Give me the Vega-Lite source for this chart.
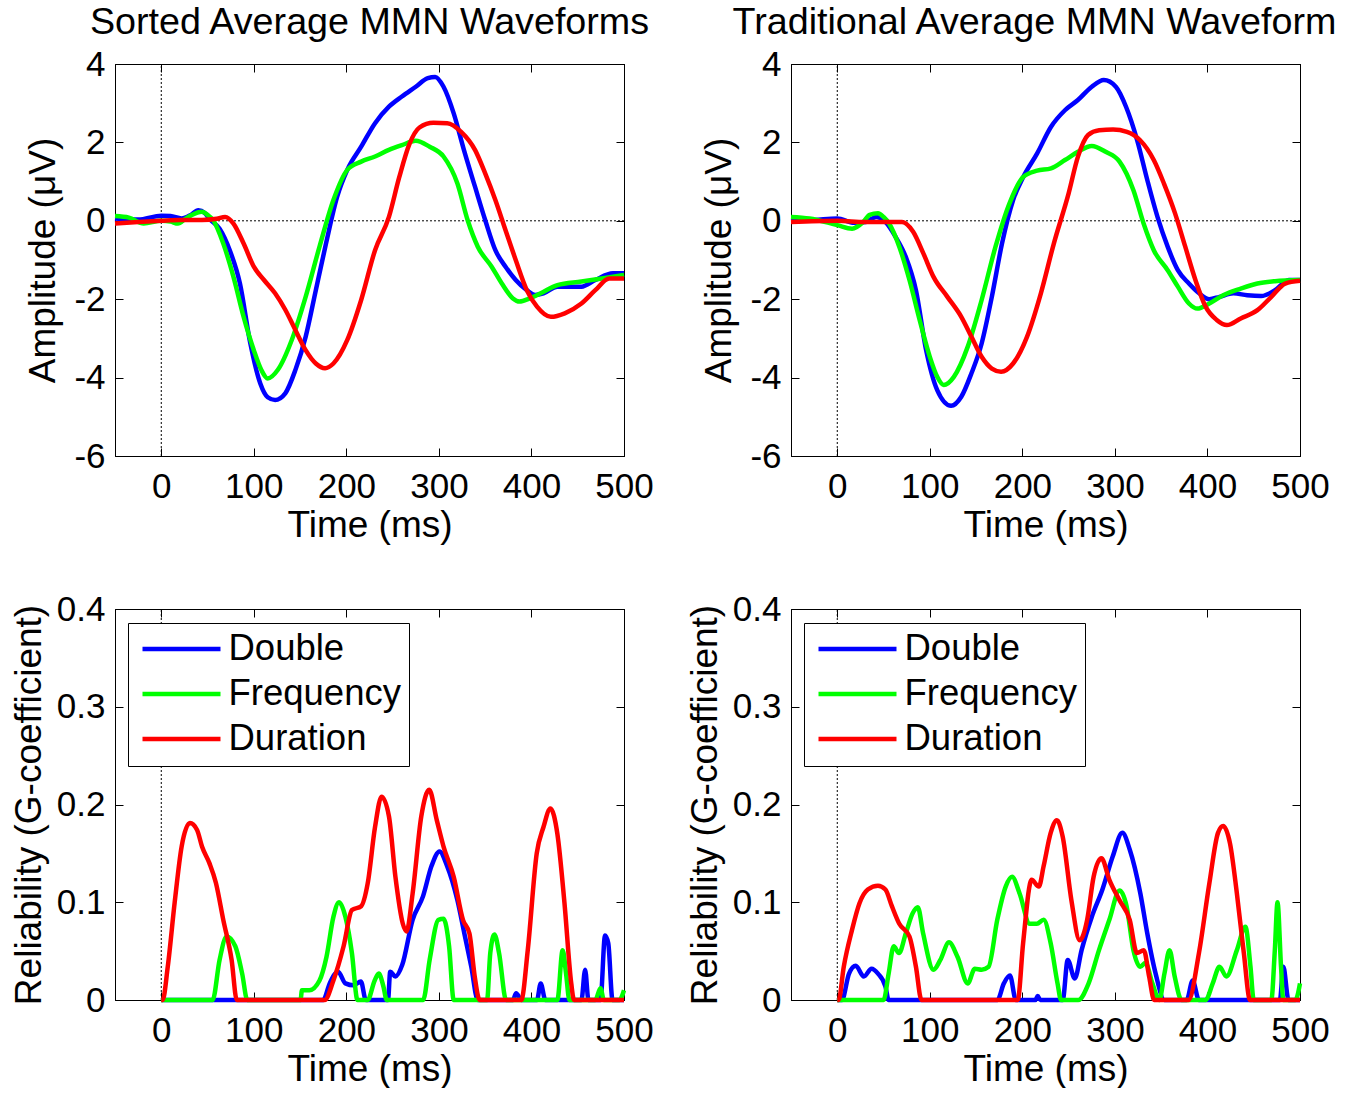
{
  "$schema": "https://vega.github.io/schema/vega-lite/v6.json",
  "background": "white",
  "padding": {"left": 9, "top": 3, "right": 0, "bottom": 0},
  "datasets": {
    "sortedWave": [
      {"time":-50,"value":0.06,"condition":"Double"},{"time":-25,"value":0.03,"condition":"Double"},{"time":0,"value":0.13,"condition":"Double"},{"time":10,"value":0.12,"condition":"Double"},{"time":22,"value":0.06,"condition":"Double"},{"time":32,"value":0.15,"condition":"Double"},{"time":40,"value":0.27,"condition":"Double"},{"time":47,"value":0.2,"condition":"Double"},{"time":52,"value":0.05,"condition":"Double"},{"time":63,"value":-0.2,"condition":"Double"},{"time":74,"value":-0.75,"condition":"Double"},{"time":85,"value":-1.6,"condition":"Double"},{"time":96,"value":-3.1,"condition":"Double"},{"time":107,"value":-4.15,"condition":"Double"},{"time":115,"value":-4.5,"condition":"Double"},{"time":123,"value":-4.57,"condition":"Double"},{"time":134,"value":-4.4,"condition":"Double"},{"time":145,"value":-3.8,"condition":"Double"},{"time":156,"value":-2.96,"condition":"Double"},{"time":167,"value":-1.77,"condition":"Double"},{"time":178,"value":-0.58,"condition":"Double"},{"time":190,"value":0.61,"condition":"Double"},{"time":201,"value":1.3,"condition":"Double"},{"time":216,"value":1.89,"condition":"Double"},{"time":231,"value":2.49,"condition":"Double"},{"time":246,"value":2.91,"condition":"Double"},{"time":260,"value":3.17,"condition":"Double"},{"time":275,"value":3.42,"condition":"Double"},{"time":288,"value":3.64,"condition":"Double"},{"time":296,"value":3.67,"condition":"Double"},{"time":305,"value":3.42,"condition":"Double"},{"time":316,"value":2.74,"condition":"Double"},{"time":327,"value":1.81,"condition":"Double"},{"time":339,"value":0.87,"condition":"Double"},{"time":350,"value":0.02,"condition":"Double"},{"time":361,"value":-0.75,"condition":"Double"},{"time":372,"value":-1.17,"condition":"Double"},{"time":383,"value":-1.51,"condition":"Double"},{"time":395,"value":-1.77,"condition":"Double"},{"time":404,"value":-1.89,"condition":"Double"},{"time":413,"value":-1.85,"condition":"Double"},{"time":428,"value":-1.68,"condition":"Double"},{"time":443,"value":-1.68,"condition":"Double"},{"time":454,"value":-1.68,"condition":"Double"},{"time":469,"value":-1.51,"condition":"Double"},{"time":488,"value":-1.34,"condition":"Double"},{"time":500,"value":-1.34,"condition":"Double"},
      {"time":-50,"value":0.12,"condition":"Frequency"},{"time":-35,"value":0.08,"condition":"Frequency"},{"time":-19,"value":-0.07,"condition":"Frequency"},{"time":0,"value":0.0,"condition":"Frequency"},{"time":10,"value":-0.02,"condition":"Frequency"},{"time":18,"value":-0.07,"condition":"Frequency"},{"time":26,"value":0.05,"condition":"Frequency"},{"time":33,"value":0.15,"condition":"Frequency"},{"time":44,"value":0.23,"condition":"Frequency"},{"time":50,"value":0.15,"condition":"Frequency"},{"time":56,"value":0.02,"condition":"Frequency"},{"time":67,"value":-0.58,"condition":"Frequency"},{"time":78,"value":-1.43,"condition":"Frequency"},{"time":89,"value":-2.45,"condition":"Frequency"},{"time":100,"value":-3.3,"condition":"Frequency"},{"time":108,"value":-3.8,"condition":"Frequency"},{"time":115,"value":-4.02,"condition":"Frequency"},{"time":126,"value":-3.8,"condition":"Frequency"},{"time":141,"value":-3.04,"condition":"Frequency"},{"time":156,"value":-1.94,"condition":"Frequency"},{"time":171,"value":-0.66,"condition":"Frequency"},{"time":186,"value":0.53,"condition":"Frequency"},{"time":201,"value":1.3,"condition":"Frequency"},{"time":216,"value":1.51,"condition":"Frequency"},{"time":231,"value":1.64,"condition":"Frequency"},{"time":246,"value":1.81,"condition":"Frequency"},{"time":260,"value":1.93,"condition":"Frequency"},{"time":275,"value":2.04,"condition":"Frequency"},{"time":290,"value":1.89,"condition":"Frequency"},{"time":305,"value":1.64,"condition":"Frequency"},{"time":320,"value":0.95,"condition":"Frequency"},{"time":331,"value":0.02,"condition":"Frequency"},{"time":342,"value":-0.66,"condition":"Frequency"},{"time":357,"value":-1.17,"condition":"Frequency"},{"time":368,"value":-1.6,"condition":"Frequency"},{"time":380,"value":-1.98,"condition":"Frequency"},{"time":387,"value":-2.06,"condition":"Frequency"},{"time":398,"value":-1.98,"condition":"Frequency"},{"time":410,"value":-1.85,"condition":"Frequency"},{"time":428,"value":-1.64,"condition":"Frequency"},{"time":454,"value":-1.55,"condition":"Frequency"},{"time":476,"value":-1.47,"condition":"Frequency"},{"time":500,"value":-1.38,"condition":"Frequency"},
      {"time":-50,"value":-0.07,"condition":"Duration"},{"time":-25,"value":-0.03,"condition":"Duration"},{"time":0,"value":0.0,"condition":"Duration"},{"time":20,"value":0.02,"condition":"Duration"},{"time":44,"value":0.02,"condition":"Duration"},{"time":60,"value":0.05,"condition":"Duration"},{"time":69,"value":0.1,"condition":"Duration"},{"time":78,"value":-0.07,"condition":"Duration"},{"time":89,"value":-0.58,"condition":"Duration"},{"time":100,"value":-1.17,"condition":"Duration"},{"time":111,"value":-1.51,"condition":"Duration"},{"time":123,"value":-1.85,"condition":"Duration"},{"time":134,"value":-2.27,"condition":"Duration"},{"time":145,"value":-2.79,"condition":"Duration"},{"time":156,"value":-3.3,"condition":"Duration"},{"time":167,"value":-3.64,"condition":"Duration"},{"time":177,"value":-3.76,"condition":"Duration"},{"time":186,"value":-3.64,"condition":"Duration"},{"time":201,"value":-3.04,"condition":"Duration"},{"time":216,"value":-2.02,"condition":"Duration"},{"time":231,"value":-0.75,"condition":"Duration"},{"time":246,"value":0.1,"condition":"Duration"},{"time":257,"value":1.1,"condition":"Duration"},{"time":268,"value":1.95,"condition":"Duration"},{"time":279,"value":2.38,"condition":"Duration"},{"time":294,"value":2.5,"condition":"Duration"},{"time":309,"value":2.49,"condition":"Duration"},{"time":324,"value":2.27,"condition":"Duration"},{"time":339,"value":1.81,"condition":"Duration"},{"time":350,"value":1.21,"condition":"Duration"},{"time":361,"value":0.53,"condition":"Duration"},{"time":372,"value":-0.24,"condition":"Duration"},{"time":383,"value":-1.0,"condition":"Duration"},{"time":395,"value":-1.77,"condition":"Duration"},{"time":406,"value":-2.19,"condition":"Duration"},{"time":421,"value":-2.45,"condition":"Duration"},{"time":436,"value":-2.36,"condition":"Duration"},{"time":454,"value":-2.11,"condition":"Duration"},{"time":469,"value":-1.77,"condition":"Duration"},{"time":484,"value":-1.47,"condition":"Duration"},{"time":500,"value":-1.47,"condition":"Duration"}
    ],
    "tradWave": [
      {"time":-50,"value":0.0,"condition":"Double"},{"time":-25,"value":0.02,"condition":"Double"},{"time":0,"value":0.06,"condition":"Double"},{"time":18,"value":-0.05,"condition":"Double"},{"time":31,"value":-0.03,"condition":"Double"},{"time":42,"value":0.1,"condition":"Double"},{"time":52,"value":-0.03,"condition":"Double"},{"time":63,"value":-0.41,"condition":"Double"},{"time":74,"value":-0.92,"condition":"Double"},{"time":85,"value":-1.77,"condition":"Double"},{"time":96,"value":-3.3,"condition":"Double"},{"time":108,"value":-4.32,"condition":"Double"},{"time":123,"value":-4.72,"condition":"Double"},{"time":134,"value":-4.49,"condition":"Double"},{"time":145,"value":-3.89,"condition":"Double"},{"time":156,"value":-3.13,"condition":"Double"},{"time":167,"value":-1.94,"condition":"Double"},{"time":178,"value":-0.58,"condition":"Double"},{"time":190,"value":0.53,"condition":"Double"},{"time":201,"value":1.12,"condition":"Double"},{"time":216,"value":1.72,"condition":"Double"},{"time":231,"value":2.4,"condition":"Double"},{"time":246,"value":2.82,"condition":"Double"},{"time":260,"value":3.08,"condition":"Double"},{"time":275,"value":3.42,"condition":"Double"},{"time":288,"value":3.59,"condition":"Double"},{"time":301,"value":3.42,"condition":"Double"},{"time":312,"value":2.91,"condition":"Double"},{"time":324,"value":2.06,"condition":"Double"},{"time":335,"value":1.04,"condition":"Double"},{"time":346,"value":0.1,"condition":"Double"},{"time":357,"value":-0.66,"condition":"Double"},{"time":368,"value":-1.26,"condition":"Double"},{"time":380,"value":-1.6,"condition":"Double"},{"time":391,"value":-1.85,"condition":"Double"},{"time":402,"value":-2.0,"condition":"Double"},{"time":413,"value":-1.94,"condition":"Double"},{"time":428,"value":-1.85,"condition":"Double"},{"time":443,"value":-1.9,"condition":"Double"},{"time":458,"value":-1.92,"condition":"Double"},{"time":473,"value":-1.77,"condition":"Double"},{"time":488,"value":-1.51,"condition":"Double"},{"time":500,"value":-1.51,"condition":"Double"},
      {"time":-50,"value":0.1,"condition":"Frequency"},{"time":-30,"value":0.06,"condition":"Frequency"},{"time":0,"value":-0.11,"condition":"Frequency"},{"time":16,"value":-0.2,"condition":"Frequency"},{"time":28,"value":-0.03,"condition":"Frequency"},{"time":35,"value":0.15,"condition":"Frequency"},{"time":44,"value":0.19,"condition":"Frequency"},{"time":50,"value":0.1,"condition":"Frequency"},{"time":56,"value":-0.07,"condition":"Frequency"},{"time":67,"value":-0.66,"condition":"Frequency"},{"time":78,"value":-1.51,"condition":"Frequency"},{"time":89,"value":-2.53,"condition":"Frequency"},{"time":100,"value":-3.47,"condition":"Frequency"},{"time":108,"value":-3.98,"condition":"Frequency"},{"time":115,"value":-4.19,"condition":"Frequency"},{"time":126,"value":-3.98,"condition":"Frequency"},{"time":141,"value":-3.21,"condition":"Frequency"},{"time":156,"value":-2.02,"condition":"Frequency"},{"time":171,"value":-0.66,"condition":"Frequency"},{"time":186,"value":0.44,"condition":"Frequency"},{"time":201,"value":1.12,"condition":"Frequency"},{"time":216,"value":1.28,"condition":"Frequency"},{"time":231,"value":1.34,"condition":"Frequency"},{"time":246,"value":1.55,"condition":"Frequency"},{"time":260,"value":1.76,"condition":"Frequency"},{"time":275,"value":1.91,"condition":"Frequency"},{"time":290,"value":1.76,"condition":"Frequency"},{"time":305,"value":1.51,"condition":"Frequency"},{"time":320,"value":0.78,"condition":"Frequency"},{"time":331,"value":-0.07,"condition":"Frequency"},{"time":342,"value":-0.75,"condition":"Frequency"},{"time":357,"value":-1.26,"condition":"Frequency"},{"time":368,"value":-1.68,"condition":"Frequency"},{"time":380,"value":-2.11,"condition":"Frequency"},{"time":389,"value":-2.24,"condition":"Frequency"},{"time":402,"value":-2.11,"condition":"Frequency"},{"time":417,"value":-1.9,"condition":"Frequency"},{"time":436,"value":-1.73,"condition":"Frequency"},{"time":454,"value":-1.6,"condition":"Frequency"},{"time":473,"value":-1.54,"condition":"Frequency"},{"time":500,"value":-1.51,"condition":"Frequency"},
      {"time":-50,"value":-0.03,"condition":"Duration"},{"time":0,"value":0.0,"condition":"Duration"},{"time":30,"value":-0.03,"condition":"Duration"},{"time":70,"value":-0.03,"condition":"Duration"},{"time":82,"value":-0.28,"condition":"Duration"},{"time":93,"value":-0.83,"condition":"Duration"},{"time":104,"value":-1.43,"condition":"Duration"},{"time":119,"value":-1.94,"condition":"Duration"},{"time":134,"value":-2.45,"condition":"Duration"},{"time":145,"value":-2.96,"condition":"Duration"},{"time":156,"value":-3.47,"condition":"Duration"},{"time":167,"value":-3.77,"condition":"Duration"},{"time":177,"value":-3.85,"condition":"Duration"},{"time":190,"value":-3.64,"condition":"Duration"},{"time":205,"value":-2.96,"condition":"Duration"},{"time":220,"value":-1.85,"condition":"Duration"},{"time":234,"value":-0.58,"condition":"Duration"},{"time":250,"value":0.7,"condition":"Duration"},{"time":260,"value":1.63,"condition":"Duration"},{"time":271,"value":2.19,"condition":"Duration"},{"time":283,"value":2.31,"condition":"Duration"},{"time":298,"value":2.33,"condition":"Duration"},{"time":313,"value":2.27,"condition":"Duration"},{"time":327,"value":2.06,"condition":"Duration"},{"time":342,"value":1.55,"condition":"Duration"},{"time":353,"value":0.95,"condition":"Duration"},{"time":365,"value":0.19,"condition":"Duration"},{"time":376,"value":-0.66,"condition":"Duration"},{"time":387,"value":-1.51,"condition":"Duration"},{"time":398,"value":-2.19,"condition":"Duration"},{"time":410,"value":-2.53,"condition":"Duration"},{"time":421,"value":-2.66,"condition":"Duration"},{"time":436,"value":-2.49,"condition":"Duration"},{"time":454,"value":-2.28,"condition":"Duration"},{"time":469,"value":-1.94,"condition":"Duration"},{"time":484,"value":-1.6,"condition":"Duration"},{"time":500,"value":-1.53,"condition":"Duration"}
    ],
    "sortedRel": [
      {"time":0,"value":0,"condition":"Double"},{"time":175,"value":0,"condition":"Double"},{"time":182,"value":0.017,"condition":"Double"},{"time":191,"value":0.029,"condition":"Double"},{"time":199,"value":0.017,"condition":"Double"},{"time":208,"value":0.015,"condition":"Double"},{"time":215.7,"value":0.019,"condition":"Double"},{"time":221,"value":0,"condition":"Double"},{"time":245,"value":0,"condition":"Double"},{"time":247.4,"value":0.029,"condition":"Double"},{"time":253,"value":0.024,"condition":"Double"},{"time":260.4,"value":0.036,"condition":"Double"},{"time":271.6,"value":0.082,"condition":"Double"},{"time":282.8,"value":0.106,"condition":"Double"},{"time":292,"value":0.137,"condition":"Double"},{"time":300.7,"value":0.152,"condition":"Double"},{"time":308.9,"value":0.137,"condition":"Double"},{"time":320,"value":0.102,"condition":"Double"},{"time":327.5,"value":0.068,"condition":"Double"},{"time":335,"value":0.034,"condition":"Double"},{"time":342,"value":0,"condition":"Double"},{"time":380,"value":0,"condition":"Double"},{"time":383.4,"value":0.007,"condition":"Double"},{"time":389,"value":0,"condition":"Double"},{"time":406,"value":0,"condition":"Double"},{"time":410,"value":0.017,"condition":"Double"},{"time":415,"value":0,"condition":"Double"},{"time":454,"value":0,"condition":"Double"},{"time":458,"value":0.031,"condition":"Double"},{"time":461.6,"value":0,"condition":"Double"},{"time":474.6,"value":0,"condition":"Double"},{"time":479.5,"value":0.066,"condition":"Double"},{"time":483,"value":0.058,"condition":"Double"},{"time":487.6,"value":0,"condition":"Double"},{"time":500,"value":0,"condition":"Double"},
      {"time":0,"value":0,"condition":"Frequency"},{"time":55.5,"value":0,"condition":"Frequency"},{"time":63,"value":0.041,"condition":"Frequency"},{"time":70.6,"value":0.065,"condition":"Frequency"},{"time":80,"value":0.055,"condition":"Frequency"},{"time":87.4,"value":0.027,"condition":"Frequency"},{"time":93,"value":0,"condition":"Frequency"},{"time":150.5,"value":0,"condition":"Frequency"},{"time":152,"value":0.01,"condition":"Frequency"},{"time":160,"value":0.01,"condition":"Frequency"},{"time":171,"value":0.02,"condition":"Frequency"},{"time":178.5,"value":0.044,"condition":"Frequency"},{"time":186,"value":0.085,"condition":"Frequency"},{"time":192,"value":0.1,"condition":"Frequency"},{"time":199,"value":0.085,"condition":"Frequency"},{"time":206,"value":0.048,"condition":"Frequency"},{"time":212,"value":0,"condition":"Frequency"},{"time":223,"value":0,"condition":"Frequency"},{"time":230.6,"value":0.02,"condition":"Frequency"},{"time":235,"value":0.027,"condition":"Frequency"},{"time":240,"value":0.014,"condition":"Frequency"},{"time":243.6,"value":0,"condition":"Frequency"},{"time":283,"value":0,"condition":"Frequency"},{"time":290,"value":0.041,"condition":"Frequency"},{"time":299.5,"value":0.082,"condition":"Frequency"},{"time":305,"value":0.083,"condition":"Frequency"},{"time":311,"value":0.055,"condition":"Frequency"},{"time":316,"value":0,"condition":"Frequency"},{"time":352,"value":0,"condition":"Frequency"},{"time":355.5,"value":0.048,"condition":"Frequency"},{"time":360,"value":0.067,"condition":"Frequency"},{"time":365,"value":0.048,"condition":"Frequency"},{"time":372.6,"value":0,"condition":"Frequency"},{"time":428,"value":0,"condition":"Frequency"},{"time":433.7,"value":0.051,"condition":"Frequency"},{"time":437.4,"value":0.027,"condition":"Frequency"},{"time":441,"value":0,"condition":"Frequency"},{"time":469,"value":0,"condition":"Frequency"},{"time":474.6,"value":0.012,"condition":"Frequency"},{"time":478.3,"value":0,"condition":"Frequency"},{"time":495,"value":0,"condition":"Frequency"},{"time":500,"value":0.01,"condition":"Frequency"},
      {"time":0,"value":0,"condition":"Duration"},{"time":1.5,"value":0,"condition":"Duration"},{"time":7,"value":0.034,"condition":"Duration"},{"time":14.5,"value":0.1,"condition":"Duration"},{"time":22,"value":0.157,"condition":"Duration"},{"time":31,"value":0.181,"condition":"Duration"},{"time":38.7,"value":0.174,"condition":"Duration"},{"time":44,"value":0.157,"condition":"Duration"},{"time":52,"value":0.14,"condition":"Duration"},{"time":59,"value":0.12,"condition":"Duration"},{"time":67,"value":0.082,"condition":"Duration"},{"time":76,"value":0.041,"condition":"Duration"},{"time":81.6,"value":0,"condition":"Duration"},{"time":176.6,"value":0,"condition":"Duration"},{"time":186,"value":0.02,"condition":"Duration"},{"time":197,"value":0.055,"condition":"Duration"},{"time":206,"value":0.092,"condition":"Duration"},{"time":216,"value":0.096,"condition":"Duration"},{"time":223,"value":0.119,"condition":"Duration"},{"time":231,"value":0.177,"condition":"Duration"},{"time":238,"value":0.208,"condition":"Duration"},{"time":246,"value":0.188,"condition":"Duration"},{"time":253,"value":0.126,"condition":"Duration"},{"time":261,"value":0.078,"condition":"Duration"},{"time":265,"value":0.07,"condition":"Duration"},{"time":271.6,"value":0.109,"condition":"Duration"},{"time":281,"value":0.188,"condition":"Duration"},{"time":289.5,"value":0.215,"condition":"Duration"},{"time":297.7,"value":0.184,"condition":"Duration"},{"time":305,"value":0.157,"condition":"Duration"},{"time":316,"value":0.126,"condition":"Duration"},{"time":326,"value":0.082,"condition":"Duration"},{"time":333,"value":0.068,"condition":"Duration"},{"time":338.7,"value":0.024,"condition":"Duration"},{"time":344,"value":0,"condition":"Duration"},{"time":389,"value":0,"condition":"Duration"},{"time":396,"value":0.051,"condition":"Duration"},{"time":405.7,"value":0.15,"condition":"Duration"},{"time":413,"value":0.177,"condition":"Duration"},{"time":420.5,"value":0.196,"condition":"Duration"},{"time":428,"value":0.17,"condition":"Duration"},{"time":435.6,"value":0.1,"condition":"Duration"},{"time":443,"value":0.017,"condition":"Duration"},{"time":446,"value":0,"condition":"Duration"},{"time":500,"value":0,"condition":"Duration"}
    ],
    "tradRel": [
      {"time":0,"value":0,"condition":"Double"},{"time":5,"value":0,"condition":"Double"},{"time":12.7,"value":0.027,"condition":"Double"},{"time":20,"value":0.035,"condition":"Double"},{"time":28.7,"value":0.024,"condition":"Double"},{"time":37,"value":0.032,"condition":"Double"},{"time":44,"value":0.027,"condition":"Double"},{"time":52,"value":0.014,"condition":"Double"},{"time":55.5,"value":0,"condition":"Double"},{"time":173,"value":0,"condition":"Double"},{"time":180,"value":0.017,"condition":"Double"},{"time":186.6,"value":0.025,"condition":"Double"},{"time":193,"value":0,"condition":"Double"},{"time":214,"value":0,"condition":"Double"},{"time":216.6,"value":0.004,"condition":"Double"},{"time":219.4,"value":0,"condition":"Double"},{"time":243.6,"value":0,"condition":"Double"},{"time":249,"value":0.041,"condition":"Double"},{"time":256.6,"value":0.022,"condition":"Double"},{"time":264,"value":0.051,"condition":"Double"},{"time":275,"value":0.085,"condition":"Double"},{"time":286.5,"value":0.113,"condition":"Double"},{"time":297.7,"value":0.147,"condition":"Double"},{"time":308,"value":0.171,"condition":"Double"},{"time":316,"value":0.154,"condition":"Double"},{"time":327.5,"value":0.109,"condition":"Double"},{"time":335,"value":0.068,"condition":"Double"},{"time":344,"value":0.027,"condition":"Double"},{"time":353.5,"value":0,"condition":"Double"},{"time":377.6,"value":0,"condition":"Double"},{"time":384,"value":0.02,"condition":"Double"},{"time":390.8,"value":0,"condition":"Double"},{"time":478.3,"value":0,"condition":"Double"},{"time":482,"value":0.034,"condition":"Double"},{"time":487.6,"value":0,"condition":"Double"},{"time":500,"value":0,"condition":"Double"},
      {"time":0,"value":0,"condition":"Frequency"},{"time":50,"value":0,"condition":"Frequency"},{"time":55.5,"value":0.027,"condition":"Frequency"},{"time":61,"value":0.055,"condition":"Frequency"},{"time":66.7,"value":0.048,"condition":"Frequency"},{"time":74,"value":0.068,"condition":"Frequency"},{"time":81.6,"value":0.089,"condition":"Frequency"},{"time":87,"value":0.095,"condition":"Frequency"},{"time":92.8,"value":0.068,"condition":"Frequency"},{"time":104,"value":0.031,"condition":"Frequency"},{"time":111.4,"value":0.041,"condition":"Frequency"},{"time":120.7,"value":0.059,"condition":"Frequency"},{"time":130,"value":0.044,"condition":"Frequency"},{"time":141,"value":0.017,"condition":"Frequency"},{"time":148.6,"value":0.032,"condition":"Frequency"},{"time":156,"value":0.031,"condition":"Frequency"},{"time":163.5,"value":0.034,"condition":"Frequency"},{"time":172.9,"value":0.082,"condition":"Frequency"},{"time":182,"value":0.116,"condition":"Frequency"},{"time":188.9,"value":0.126,"condition":"Frequency"},{"time":197,"value":0.109,"condition":"Frequency"},{"time":208,"value":0.078,"condition":"Frequency"},{"time":215.7,"value":0.078,"condition":"Frequency"},{"time":223,"value":0.082,"condition":"Frequency"},{"time":230.6,"value":0.058,"condition":"Frequency"},{"time":238,"value":0.017,"condition":"Frequency"},{"time":241.8,"value":0,"condition":"Frequency"},{"time":260.4,"value":0,"condition":"Frequency"},{"time":271.6,"value":0.017,"condition":"Frequency"},{"time":282.8,"value":0.051,"condition":"Frequency"},{"time":294,"value":0.082,"condition":"Frequency"},{"time":305,"value":0.112,"condition":"Frequency"},{"time":312.6,"value":0.096,"condition":"Frequency"},{"time":320,"value":0.051,"condition":"Frequency"},{"time":327.5,"value":0.034,"condition":"Frequency"},{"time":333,"value":0.038,"condition":"Frequency"},{"time":340.5,"value":0.017,"condition":"Frequency"},{"time":348,"value":0,"condition":"Frequency"},{"time":353.5,"value":0.027,"condition":"Frequency"},{"time":359,"value":0.051,"condition":"Frequency"},{"time":364.6,"value":0.024,"condition":"Frequency"},{"time":372,"value":0,"condition":"Frequency"},{"time":398,"value":0,"condition":"Frequency"},{"time":405.7,"value":0.017,"condition":"Frequency"},{"time":413,"value":0.034,"condition":"Frequency"},{"time":420.5,"value":0.024,"condition":"Frequency"},{"time":431.8,"value":0.051,"condition":"Frequency"},{"time":441,"value":0.075,"condition":"Frequency"},{"time":446.5,"value":0.034,"condition":"Frequency"},{"time":450,"value":0,"condition":"Frequency"},{"time":469,"value":0,"condition":"Frequency"},{"time":472.8,"value":0.051,"condition":"Frequency"},{"time":475.7,"value":0.1,"condition":"Frequency"},{"time":479.5,"value":0.034,"condition":"Frequency"},{"time":482,"value":0,"condition":"Frequency"},{"time":495,"value":0,"condition":"Frequency"},{"time":500,"value":0.017,"condition":"Frequency"},
      {"time":0,"value":0,"condition":"Duration"},{"time":1.5,"value":0,"condition":"Duration"},{"time":7,"value":0.034,"condition":"Duration"},{"time":16,"value":0.072,"condition":"Duration"},{"time":24,"value":0.099,"condition":"Duration"},{"time":33,"value":0.113,"condition":"Duration"},{"time":44,"value":0.117,"condition":"Duration"},{"time":52,"value":0.113,"condition":"Duration"},{"time":59,"value":0.096,"condition":"Duration"},{"time":67,"value":0.078,"condition":"Duration"},{"time":78,"value":0.065,"condition":"Duration"},{"time":85,"value":0.034,"condition":"Duration"},{"time":91,"value":0,"condition":"Duration"},{"time":195,"value":0,"condition":"Duration"},{"time":200.8,"value":0.058,"condition":"Duration"},{"time":210,"value":0.123,"condition":"Duration"},{"time":217.8,"value":0.116,"condition":"Duration"},{"time":223,"value":0.137,"condition":"Duration"},{"time":230.6,"value":0.171,"condition":"Duration"},{"time":237.3,"value":0.184,"condition":"Duration"},{"time":243.6,"value":0.167,"condition":"Duration"},{"time":253,"value":0.102,"condition":"Duration"},{"time":262,"value":0.061,"condition":"Duration"},{"time":270,"value":0.082,"condition":"Duration"},{"time":277,"value":0.126,"condition":"Duration"},{"time":285.4,"value":0.145,"condition":"Duration"},{"time":294,"value":0.123,"condition":"Duration"},{"time":305,"value":0.102,"condition":"Duration"},{"time":316,"value":0.082,"condition":"Duration"},{"time":323.8,"value":0.048,"condition":"Duration"},{"time":331.2,"value":0.051,"condition":"Duration"},{"time":337,"value":0.024,"condition":"Duration"},{"time":342.4,"value":0,"condition":"Duration"},{"time":379.6,"value":0,"condition":"Duration"},{"time":390.8,"value":0.048,"condition":"Duration"},{"time":402,"value":0.119,"condition":"Duration"},{"time":411.4,"value":0.171,"condition":"Duration"},{"time":417,"value":0.178,"condition":"Duration"},{"time":424.4,"value":0.16,"condition":"Duration"},{"time":431.8,"value":0.109,"condition":"Duration"},{"time":439.3,"value":0.048,"condition":"Duration"},{"time":446,"value":0,"condition":"Duration"},{"time":500,"value":0,"condition":"Duration"}
    ]
  },
  "columns": 2,
  "spacing": {"row": 47, "column": 31},
  "resolve": {"scale": {"color": "independent", "x": "independent", "y": "independent"}, "legend": {"color": "independent"}},
  "concat": [
    {
      "width": 509, "height": 392,
      "title": {"text": "Sorted Average MMN Waveforms"},
      "layer": [
        {"data": {"values": [{}]}, "mark": {"type": "rule", "color": "black", "strokeWidth": 1, "strokeDash": [2, 2]},
         "encoding": {"y": {"datum": 0, "type": "quantitative", "scale": {"domain": [-6, 4], "nice": false, "zero": false}, "axis": null}}},
        {"data": {"values": [{}]}, "mark": {"type": "rule", "color": "black", "strokeWidth": 1, "strokeDash": [2, 2]},
         "encoding": {
           "x": {"datum": 0, "type": "quantitative", "scale": {"domain": [-50, 500], "nice": false, "zero": false}, "axis": {"orient": "top", "values": [0, 100, 200, 300, 400, 500], "labels": false, "title": null}},
           "y": {"datum": -6, "type": "quantitative", "scale": {"domain": [-6, 4], "nice": false, "zero": false}, "axis": {"orient": "right", "values": [-6, -4, -2, 0, 2, 4], "labels": false, "title": null}},
           "y2": {"datum": 4}}},
        {"data": {"name": "sortedWave"}, "mark": {"type": "line", "strokeWidth": 4.5, "interpolate": "monotone"},
         "encoding": {
           "x": {"field": "time", "type": "quantitative", "scale": {"domain": [-50, 500], "nice": false, "zero": false}, "axis": {"orient": "bottom", "values": [0, 100, 200, 300, 400, 500], "title": "Time (ms)"}},
           "y": {"field": "value", "type": "quantitative", "scale": {"domain": [-6, 4], "nice": false, "zero": false}, "axis": {"orient": "left", "values": [-6, -4, -2, 0, 2, 4], "labelExpr": "toString(datum.value)", "titlePadding": 11, "title": "Amplitude (μV)"}},
           "color": {"field": "condition", "type": "nominal", "scale": {"domain": ["Double", "Frequency", "Duration"], "range": ["#0000ff", "#00ff00", "#ff0000"]}, "legend": null}}}
      ],
      "resolve": {"axis": {"x": "independent", "y": "independent"}}
    },
    {
      "width": 509, "height": 392,
      "title": {"text": "Traditional Average MMN Waveform", "dx": -11},
      "layer": [
        {"data": {"values": [{}]}, "mark": {"type": "rule", "color": "black", "strokeWidth": 1, "strokeDash": [2, 2]},
         "encoding": {"y": {"datum": 0, "type": "quantitative", "scale": {"domain": [-6, 4], "nice": false, "zero": false}, "axis": null}}},
        {"data": {"values": [{}]}, "mark": {"type": "rule", "color": "black", "strokeWidth": 1, "strokeDash": [2, 2]},
         "encoding": {
           "x": {"datum": 0, "type": "quantitative", "scale": {"domain": [-50, 500], "nice": false, "zero": false}, "axis": {"orient": "top", "values": [0, 100, 200, 300, 400, 500], "labels": false, "title": null}},
           "y": {"datum": -6, "type": "quantitative", "scale": {"domain": [-6, 4], "nice": false, "zero": false}, "axis": {"orient": "right", "values": [-6, -4, -2, 0, 2, 4], "labels": false, "title": null}},
           "y2": {"datum": 4}}},
        {"data": {"name": "tradWave"}, "mark": {"type": "line", "strokeWidth": 4.5, "interpolate": "monotone"},
         "encoding": {
           "x": {"field": "time", "type": "quantitative", "scale": {"domain": [-50, 500], "nice": false, "zero": false}, "axis": {"orient": "bottom", "values": [0, 100, 200, 300, 400, 500], "title": "Time (ms)"}},
           "y": {"field": "value", "type": "quantitative", "scale": {"domain": [-6, 4], "nice": false, "zero": false}, "axis": {"orient": "left", "values": [-6, -4, -2, 0, 2, 4], "labelExpr": "toString(datum.value)", "titlePadding": 11, "title": "Amplitude (μV)"}},
           "color": {"field": "condition", "type": "nominal", "scale": {"domain": ["Double", "Frequency", "Duration"], "range": ["#0000ff", "#00ff00", "#ff0000"]}, "legend": null}}}
      ],
      "resolve": {"axis": {"x": "independent", "y": "independent"}}
    },
    {
      "width": 509, "height": 391,
      "layer": [
        {"data": {"values": [{}]}, "mark": {"type": "rule", "color": "black", "strokeWidth": 1, "strokeDash": [2, 2]},
         "encoding": {
           "x": {"datum": 0, "type": "quantitative", "scale": {"domain": [-50, 500], "nice": false, "zero": false}, "axis": {"orient": "top", "values": [0, 100, 200, 300, 400, 500], "labels": false, "title": null}},
           "y": {"datum": 0, "type": "quantitative", "scale": {"domain": [0, 0.4], "nice": false, "zero": false}, "axis": {"orient": "right", "values": [0, 0.1, 0.2, 0.3, 0.4], "labels": false, "title": null}},
           "y2": {"datum": 0.4}}},
        {"data": {"name": "sortedRel"}, "mark": {"type": "line", "strokeWidth": 4.5, "interpolate": "monotone"},
         "encoding": {
           "x": {"field": "time", "type": "quantitative", "scale": {"domain": [-50, 500], "nice": false, "zero": false}, "axis": {"orient": "bottom", "values": [0, 100, 200, 300, 400, 500], "title": "Time (ms)"}},
           "y": {"field": "value", "type": "quantitative", "scale": {"domain": [0, 0.4], "nice": false, "zero": false}, "axis": {"orient": "left", "values": [0, 0.1, 0.2, 0.3, 0.4], "labelExpr": "toString(datum.value)", "title": "Reliability (G-coefficient)"}},
           "color": {"field": "condition", "type": "nominal", "title": null, "scale": {"domain": ["Double", "Frequency", "Duration"], "range": ["#0000ff", "#00ff00", "#ff0000"]}, "legend": {"orient": "none", "legendX": 13, "legendY": 14}}}}
      ],
      "resolve": {"axis": {"x": "independent", "y": "independent"}}
    },
    {
      "width": 509, "height": 391,
      "layer": [
        {"data": {"values": [{}]}, "mark": {"type": "rule", "color": "black", "strokeWidth": 1, "strokeDash": [2, 2]},
         "encoding": {
           "x": {"datum": 0, "type": "quantitative", "scale": {"domain": [-50, 500], "nice": false, "zero": false}, "axis": {"orient": "top", "values": [0, 100, 200, 300, 400, 500], "labels": false, "title": null}},
           "y": {"datum": 0, "type": "quantitative", "scale": {"domain": [0, 0.4], "nice": false, "zero": false}, "axis": {"orient": "right", "values": [0, 0.1, 0.2, 0.3, 0.4], "labels": false, "title": null}},
           "y2": {"datum": 0.4}}},
        {"data": {"name": "tradRel"}, "mark": {"type": "line", "strokeWidth": 4.5, "interpolate": "monotone"},
         "encoding": {
           "x": {"field": "time", "type": "quantitative", "scale": {"domain": [-50, 500], "nice": false, "zero": false}, "axis": {"orient": "bottom", "values": [0, 100, 200, 300, 400, 500], "title": "Time (ms)"}},
           "y": {"field": "value", "type": "quantitative", "scale": {"domain": [0, 0.4], "nice": false, "zero": false}, "axis": {"orient": "left", "values": [0, 0.1, 0.2, 0.3, 0.4], "labelExpr": "toString(datum.value)", "title": "Reliability (G-coefficient)"}},
           "color": {"field": "condition", "type": "nominal", "title": null, "scale": {"domain": ["Double", "Frequency", "Duration"], "range": ["#0000ff", "#00ff00", "#ff0000"]}, "legend": {"orient": "none", "legendX": 13, "legendY": 14}}}}
      ],
      "resolve": {"axis": {"x": "independent", "y": "independent"}}
    }
  ],
  "config": {
    "font": "Liberation Sans",
    "view": {"stroke": "black", "strokeWidth": 1},
    "axis": {
      "grid": false, "labelFont": "Liberation Sans", "titleFont": "Liberation Sans",
      "labelFontSize": 35, "titleFontSize": 37, "titleFontWeight": "normal",
      "labelColor": "black", "titleColor": "black", "domainColor": "black", "tickColor": "black",
      "domainWidth": 1, "tickWidth": 1, "tickSize": -8,
      "labelFlush": false, "labelOverlap": false
    },
    "axisBottom": {"labelPadding": 21, "titlePadding": 3},
    "axisLeft": {"labelPadding": 18, "titlePadding": 8},
    "title": {"fontSize": 37.7, "fontWeight": "normal", "color": "black", "font": "Liberation Sans", "offset": 5},
    "legend": {
      "symbolType": "stroke", "symbolStrokeWidth": 4.5, "symbolSize": 6084, "clipHeight": 36,
      "labelFontSize": 36.5, "labelFont": "Liberation Sans", "labelColor": "black", "labelLimit": 400,
      "padding": 8, "rowPadding": 8, "strokeColor": "black", "fillColor": "white",
      "labelOffset": 5.5, "symbolOffset": 4
    }
  }
}
